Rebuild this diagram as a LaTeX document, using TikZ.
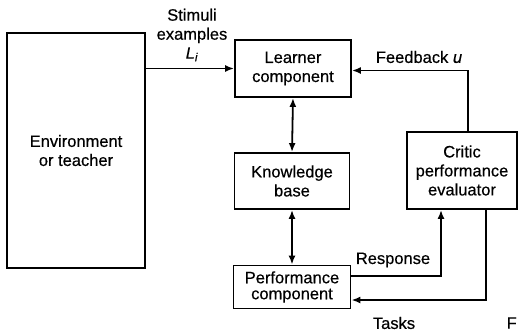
\documentclass[tikz,border=0pt]{standalone}
\usepackage{fontspec}
\setmainfont{Liberation Sans}[FakeBold=0.4]
\usetikzlibrary{arrows.meta}
\begin{document}
\begin{tikzpicture}[x=1pt,y=1pt,
  every node/.style={font=\fontsize{16.5}{19}\selectfont},
  blk/.style={draw, line width=1.8pt, align=center, inner sep=0pt},
  link/.style={line width=1.8pt, -{Latex[length=9pt,width=7pt]}},
  twoway/.style={line width=1.8pt, {Latex[length=9pt,width=7pt]}-{Latex[length=9pt,width=7pt]}},
  lbl/.style={align=center, inner sep=0pt}]
\useasboundingbox (0,0) rectangle (518,-333);
\fill[white] (0,0) rectangle (518,-333);

% boxes
\node[blk, minimum width=138pt, minimum height=235pt] (env) at (76,-150.5)
  {Environment\\or teacher};
\node[blk, minimum width=116pt, minimum height=57pt] (learner) at (293,-68.5)
  {Learner\\component};
\node[blk, minimum width=115pt, minimum height=56pt] (kb) at (292,-181)
  {Knowledge\\base};
\node[blk, minimum width=117pt, minimum height=43pt,
      font=\fontsize{16.5}{16}\selectfont] (perf) at (292,-287)
  {Performance\\component};
\node[blk, minimum width=110pt, minimum height=77pt] (critic) at (462,-170.5)
  {Critic\\performance\\evaluator};

% connectors
\draw[link] (env.east |- learner.west) -- (learner.west);
\draw[twoway] (learner.south) -- (kb.north);
\draw[twoway] (kb.south) -- (perf.north);
\draw[link] ([xshift=6pt]critic.north) |- ([yshift=-2pt]learner.east);
\draw[link] ([yshift=11pt]perf.east) -| ([xshift=-21pt]critic.south);
\draw[link] ([xshift=24pt]critic.south) |- ([yshift=-13pt]perf.east);

% labels
\node[lbl] (stim) at (192,-35) {Stimuli\\examples\\\textit{L}\textsubscript{\textit{i}}};
\node[lbl] (fb) at (419,-57) {Feedback \textit{u}};
\node[lbl] (resp) at (393,-260) {Response};
\node[lbl] (tasks) at (394,-323) {Tasks};
\node[lbl, anchor=east] (fig) at (517,-323) {F};
\end{tikzpicture}
\end{document}
